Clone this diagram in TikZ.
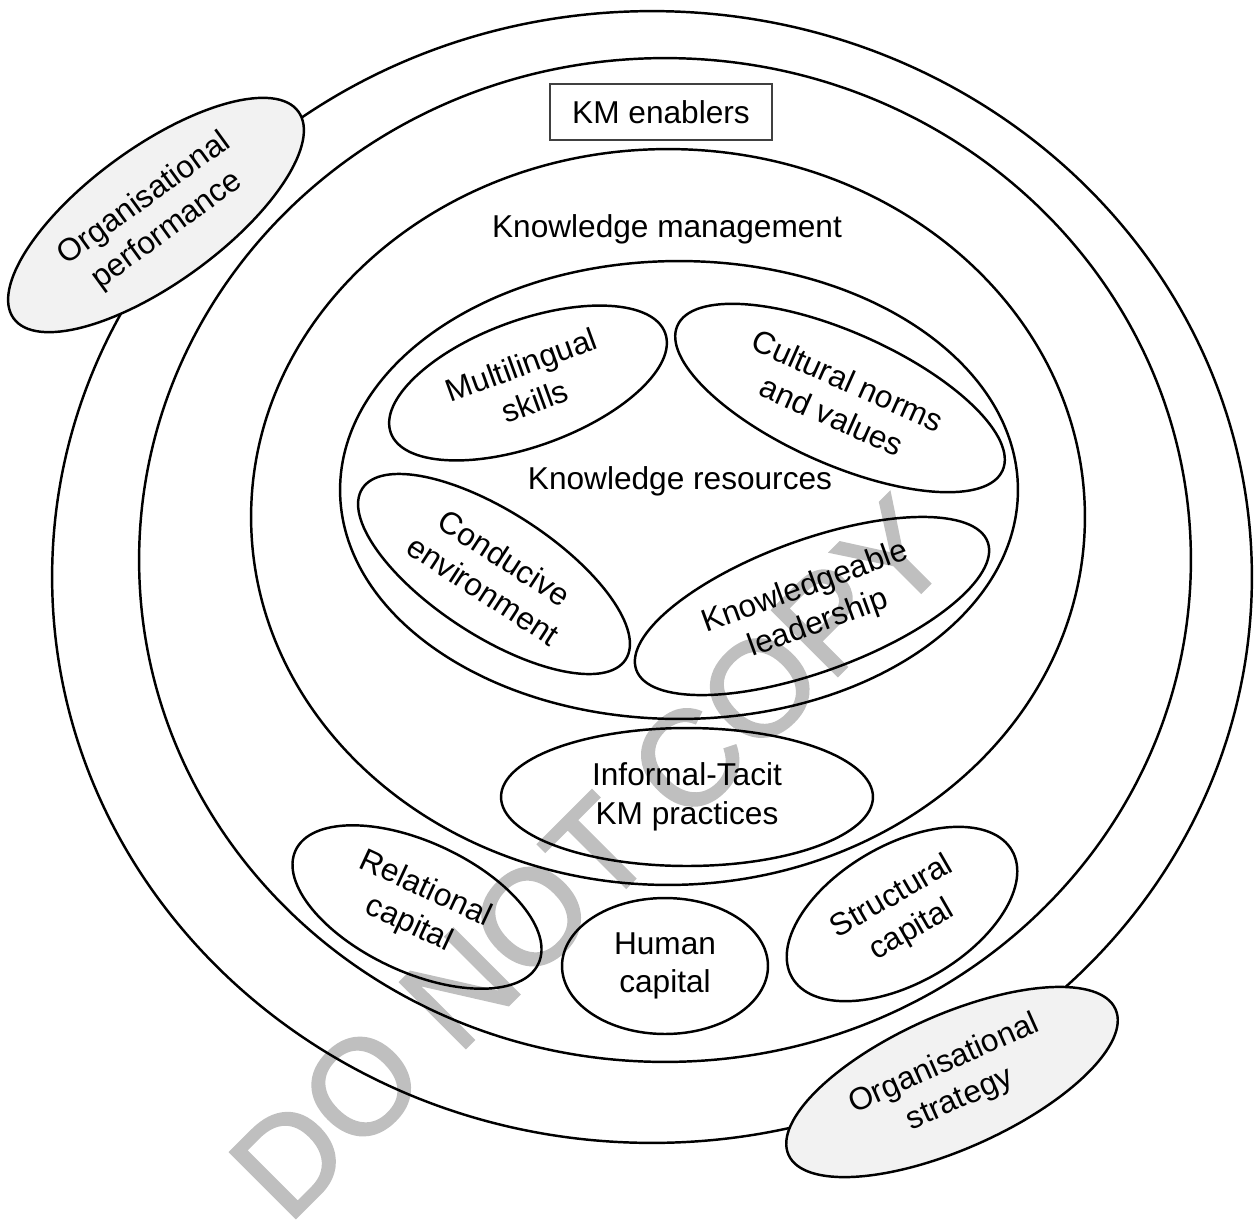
\documentclass[tikz,border=0pt]{standalone}
\usepackage{fontspec}
\setmainfont{Liberation Sans}
\newfontfamily\wmfont[FakeBold=1.6]{Liberation Sans}
\usetikzlibrary{shapes.geometric}
\definecolor{orggray}{HTML}{F2F2F2}
\definecolor{wmgray}{HTML}{BFBFBF}
\definecolor{boxline}{HTML}{404040}
\newcommand{\lblfont}{\fontsize{18}{22}\selectfont}

\begin{document}
\begin{tikzpicture}[
  x=0.02cm, y=-0.02cm,
  ring/.style 2 args={
    draw=black, line width=1.4pt, ellipse, inner sep=0pt,
    minimum width=#1, minimum height=#2
  },
  blob/.style 2 args={
    draw=black, line width=1.4pt, ellipse, inner sep=0pt,
    minimum width=#1, minimum height=#2, align=center, font=\lblfont
  },
  orgblob/.style 2 args={
    blob={#1}{#2}, fill=orggray
  },
  lbl/.style={font=\lblfont, anchor=base},
]

\useasboundingbox (0,0) rectangle (1260,1227);

% Watermark (behind everything)
\node[font=\wmfont\fontsize{77}{77}\selectfont, text=wmgray, rotate=45]
  (wmark) at (590,858) {DO NOT COPY};

% =============================================
% Nested rings
% =============================================
\node[ring={24cm}{22.64cm}] (outer) at (652,577) {};
\node[ring={21.04cm}{20.08cm}] (enablers) at (665,560) {};
\node[ring={16.68cm}{14.72cm}] (kmgt) at (668,517) {};
\node[ring={13.56cm}{9.16cm}] (kres) at (679,490) {};

% Ring titles
\node[draw=boxline, line width=0.75pt, font=\lblfont,
      minimum width=4.44cm, minimum height=1.12cm] (enablers-lbl) at (661,112) {KM enablers};
\node[lbl] (kmgt-lbl) at (667,237) {Knowledge management};
\node[lbl] (kres-lbl) at (680,489) {Knowledge resources};

% =============================================
% Knowledge resources
% =============================================
\node[blob={5.84cm}{2.52cm}, rotate=20] (multi) at (528,383) {Multilingual\\skills};
\node[blob={7.12cm}{2.64cm}, rotate=-24] (culture) at (840,398) {Cultural norms\\and values};
\node[blob={6.28cm}{2.48cm}, rotate=-33] (env) at (494,574) {Conducive\\environment};
\node[blob={7.48cm}{2.64cm}, rotate=20] (lead) at (812,606) {Knowledgeable\\leadership};

% KM practices
\node[blob={7.44cm}{2.76cm}] (tacit) at (687,797) {Informal-Tacit\\KM practices};

% =============================================
% Intellectual capital (KM enablers ring)
% =============================================
\node[blob={5.36cm}{2.6cm}, rotate=-25] (relcap) at (417,907) {Relational\\capital};
\node[blob={4.12cm}{2.72cm}] (humcap) at (665,966) {Human\\capital};
\node[blob={5.08cm}{2.76cm}, rotate=30] (strcap) at (902,914) {Structural\\capital};

% =============================================
% Organisational context
% =============================================
\node[orgblob={7.04cm}{2.72cm}, rotate=36] (perf) at (156,215) {Organisational\\performance};
\node[orgblob={7.16cm}{2.68cm}, rotate=24] (strat) at (952,1082) {Organisational\\strategy};

\end{tikzpicture}
\end{document}
